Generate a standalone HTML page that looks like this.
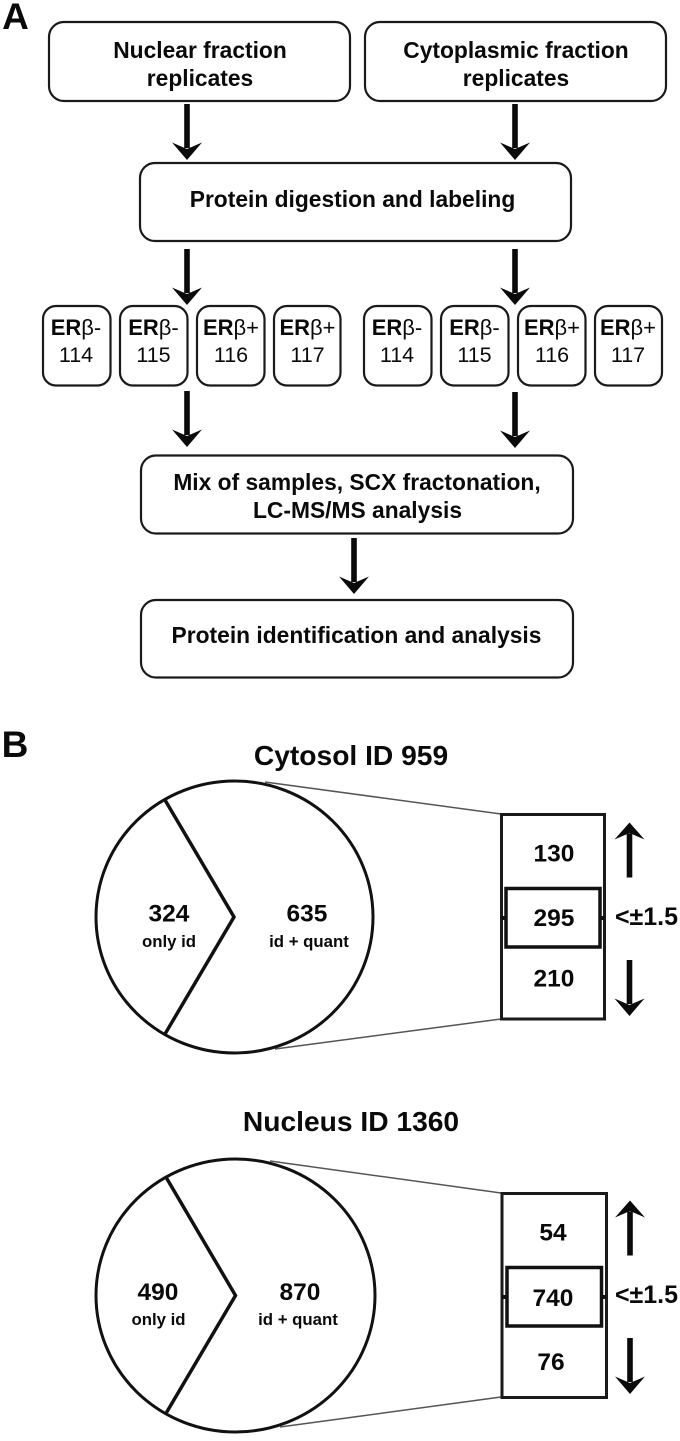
<!DOCTYPE html>
<html><head><meta charset="utf-8"><style>
html,body{margin:0;padding:0;background:#fff}
svg{display:block;filter:blur(0.35px)}
text{font-family:"Liberation Sans",sans-serif;fill:#0a0a0a;text-anchor:middle}
.b{font-weight:bold}
.box{fill:#fff;stroke:#1a1a1a;stroke-width:2.2}
.f{font-size:22.8px;font-weight:bold}
.n{font-size:24.5px;font-weight:bold}
.t{font-size:16.8px;font-weight:bold}
.h{font-size:28.2px;font-weight:bold}
</style></head><body>
<svg width="680" height="1441" viewBox="0 0 680 1441" xmlns="http://www.w3.org/2000/svg">
<defs>
<g id="d"><rect x="-2.8" y="0" width="5.6" height="44" fill="#0a0a0a"/><path d="M-15 38.500 L0 45 L15 38.500 L0 56 Z" fill="#0a0a0a"/></g>
<g id="u"><rect x="-2.8" y="11" width="5.6" height="44" fill="#0a0a0a"/><path d="M-15 17 L0 10.500 L15 17 L0 0 Z" fill="#0a0a0a"/></g>
</defs>
<text x="15.500" y="29" class="b" font-size="37">A</text>
<text x="15" y="757" class="b" font-size="37">B</text>

<rect class="box" x="49" y="22" width="301" height="79" rx="15"/>
<rect class="box" x="365" y="22" width="301" height="79" rx="15"/>
<text x="200" y="58" class="f">Nuclear fraction</text>
<text x="200" y="86" class="f">replicates</text>
<text x="516" y="58" class="f">Cytoplasmic fraction</text>
<text x="516" y="86" class="f">replicates</text>
<use href="#d" x="187" y="104"/>
<use href="#d" x="515" y="104"/>

<rect class="box" x="140" y="163" width="431" height="78" rx="15"/>
<text x="352.500" y="207" class="f">Protein digestion and labeling</text>

<g>
<rect class="box" x="43" y="306" width="67.500" height="79.500" rx="13"/>
<rect class="box" x="120" y="306" width="67.500" height="79.500" rx="13"/>
<rect class="box" x="197" y="306" width="67.500" height="79.500" rx="13"/>
<rect class="box" x="274" y="306" width="66.500" height="79.500" rx="13"/>
<rect class="box" x="364" y="306" width="67.500" height="79.500" rx="13"/>
<rect class="box" x="441" y="306" width="67.500" height="79.500" rx="13"/>
<rect class="box" x="518" y="306" width="67.500" height="79.500" rx="13"/>
<rect class="box" x="595" y="306" width="67" height="79.500" rx="13"/>
</g>
<use href="#d" x="187" y="249"/>
<use href="#d" x="515" y="249"/>
<g font-size="22">
<text x="76" y="335"><tspan font-weight="bold">ER</tspan>β-</text>
<text x="153.500" y="335"><tspan font-weight="bold">ER</tspan>β-</text>
<text x="231" y="335"><tspan font-weight="bold">ER</tspan>β+</text>
<text x="307.500" y="335"><tspan font-weight="bold">ER</tspan>β+</text>
<text x="397" y="335"><tspan font-weight="bold">ER</tspan>β-</text>
<text x="474.500" y="335"><tspan font-weight="bold">ER</tspan>β-</text>
<text x="552" y="335"><tspan font-weight="bold">ER</tspan>β+</text>
<text x="628" y="335"><tspan font-weight="bold">ER</tspan>β+</text>
</g>
<g font-size="21.500">
<text x="76" y="362">114</text>
<text x="153.500" y="362">115</text>
<text x="231" y="362">116</text>
<text x="307.500" y="362">117</text>
<text x="397" y="362">114</text>
<text x="474.500" y="362">115</text>
<text x="552" y="362">116</text>
<text x="628" y="362">117</text>
</g>
<use href="#d" x="187" y="391"/>
<use href="#d" x="515" y="392"/>

<rect class="box" x="141" y="455.500" width="432" height="78" rx="15"/>
<text x="357" y="490" class="f">Mix of samples, SCX fractonation,</text>
<text x="357.500" y="518" class="f">LC-MS/MS analysis</text>
<use href="#d" x="354" y="538"/>
<rect class="box" x="141" y="600" width="432" height="77.500" rx="15"/>
<text x="356.500" y="643" class="f">Protein identification and analysis</text>

<text x="351" y="765" class="h">Cytosol ID 959</text>
<line x1="265" y1="782" x2="501" y2="814" stroke="#555" stroke-width="1.5"/>
<line x1="275" y1="1049" x2="501" y2="1019" stroke="#555" stroke-width="1.5"/>
<ellipse cx="234.500" cy="917" rx="138.500" ry="136" fill="#fff" stroke="#111" stroke-width="3"/>
<polyline points="165,800 234,917 165,1034" fill="none" stroke="#111" stroke-width="3.500"/>
<text x="169" y="921.500" class="n">324</text>
<text x="169" y="947" class="t">only id</text>
<text x="307" y="921.500" class="n">635</text>
<text x="309" y="947" class="t">id + quant</text>
<rect x="501.500" y="814.500" width="103" height="204.500" fill="#fff" stroke="#1a1a1a" stroke-width="3"/>
<rect x="506" y="888.500" width="94" height="58.500" fill="#fff" stroke="#111" stroke-width="3.500"/>
<rect x="501" y="916" width="4" height="4" fill="#111"/><rect x="601" y="916" width="4" height="4" fill="#111"/>
<text x="554" y="861.500" class="n">130</text>
<text x="554" y="926" class="n">295</text>
<text x="554" y="986.500" class="n">210</text>
<use href="#u" x="629.500" y="822.500"/>
<use href="#d" x="629.500" y="960"/>
<text x="646.500" y="925" class="b" font-size="25">&lt;±1.5</text>

<text x="351" y="1131" class="h">Nucleus ID 1360</text>
<line x1="270" y1="1161" x2="501" y2="1193" stroke="#555" stroke-width="1.5"/>
<line x1="280" y1="1427" x2="501" y2="1397" stroke="#555" stroke-width="1.5"/>
<ellipse cx="235.500" cy="1295.500" rx="139.500" ry="136.500" fill="#fff" stroke="#111" stroke-width="3"/>
<polyline points="166.500,1178 235.500,1295.500 166.500,1412.500" fill="none" stroke="#111" stroke-width="3.500"/>
<text x="158" y="1300" class="n">490</text>
<text x="158.500" y="1325" class="t">only id</text>
<text x="300" y="1300" class="n">870</text>
<text x="298" y="1325" class="t">id + quant</text>
<rect x="502" y="1193.500" width="104.500" height="204" fill="#fff" stroke="#1a1a1a" stroke-width="3"/>
<rect x="507" y="1267.500" width="94.500" height="58.500" fill="#fff" stroke="#111" stroke-width="3.500"/>
<rect x="502" y="1295" width="4" height="4" fill="#111"/><rect x="602" y="1295" width="4" height="4" fill="#111"/>
<text x="553" y="1240.500" class="n">54</text>
<text x="553" y="1306" class="n">740</text>
<text x="551" y="1370" class="n">76</text>
<use href="#u" x="630" y="1200.500"/>
<use href="#d" x="630" y="1338"/>
<text x="646.500" y="1303" class="b" font-size="25">&lt;±1.5</text>
</svg>
</body></html>
